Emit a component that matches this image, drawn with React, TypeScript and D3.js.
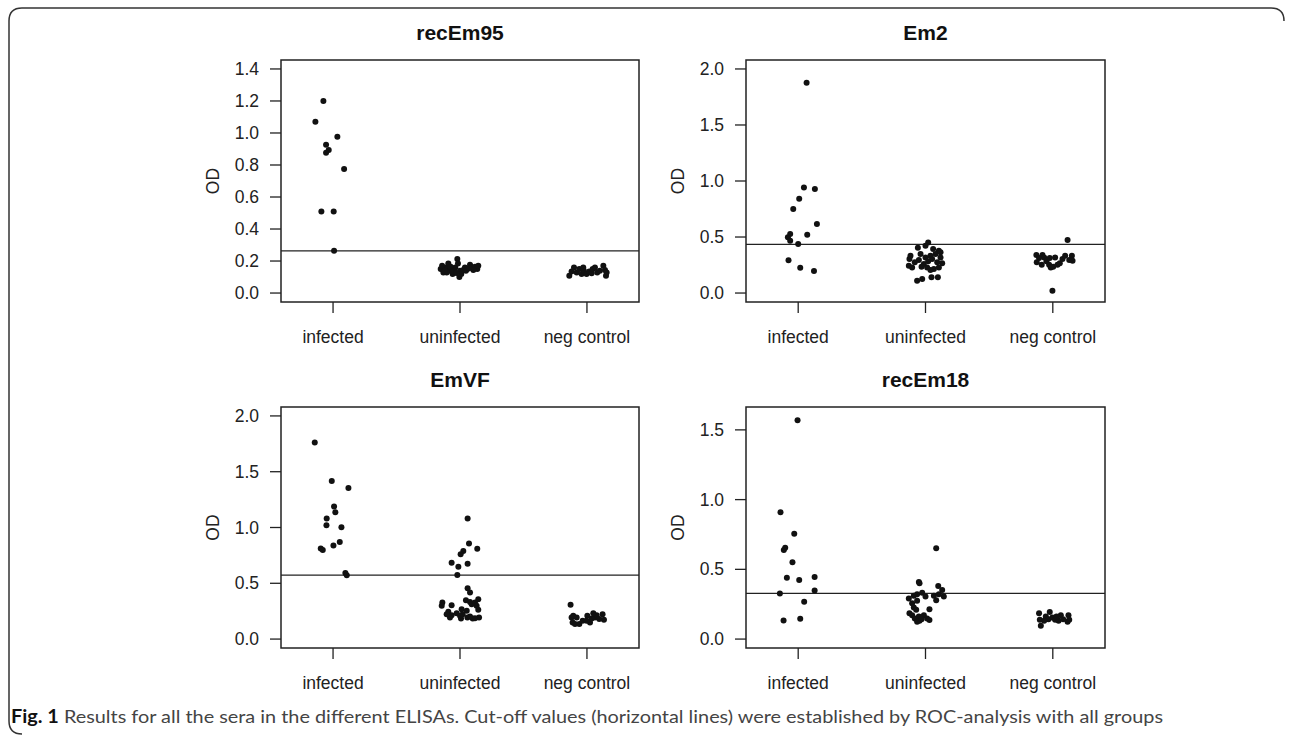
import React, { useRef, useEffect } from "react";
import { select, scaleLinear, range } from "d3";

const groups = ["infected", "uninfected", "neg control"];
const titles = ["recEm95", "Em2", "EmVF", "recEm18"];
// upper y limit used for each panel, last tick and tick step
const yLimits = [1.4, 2.0, 2.0, 1.6];
const tickMax = [1.4, 2.0, 2.0, 1.5];
const tickStep = [0.2, 0.5, 0.5, 0.5];
const cutoffs = [0.264, 0.435, 0.574, 0.328];

// each point: [jitter (category units), OD]
const recEm95Infected = [[-0.076, 1.2], [-0.139, 1.07], [0.034, 0.977], [-0.055, 0.927], [-0.034, 0.894], [-0.055, 0.877], [0.087, 0.775], [-0.092, 0.51], [0.005, 0.51], [0.008, 0.264]];
const recEm95Uninfected = [[-0.152, 0.15], [-0.131, 0.129], [-0.11, 0.16], [-0.092, 0.185], [-0.079, 0.14], [-0.058, 0.119], [-0.037, 0.16], [-0.021, 0.212], [-0.016, 0.185], [0, 0.14], [-0.005, 0.1], [0.026, 0.144], [0.039, 0.16], [0.058, 0.15], [0.079, 0.177], [0.092, 0.16], [0.118, 0.165], [0.136, 0.15], [0.144, 0.171], [-0.141, 0.171], [-0.105, 0.129], [-0.074, 0.165], [-0.047, 0.14], [0.01, 0.119], [0.047, 0.14], [0.105, 0.144], [-0.12, 0.14], [-0.06, 0.135], [0.07, 0.155], [-0.03, 0.125]];
const recEm95Neg = [[-0.139, 0.108], [-0.121, 0.135], [-0.102, 0.16], [-0.081, 0.129], [-0.06, 0.15], [-0.042, 0.119], [-0.024, 0.14], [-0.029, 0.16], [-0.003, 0.119], [0.018, 0.135], [0.037, 0.123], [0.045, 0.15], [0.063, 0.16], [0.081, 0.129], [0.102, 0.14], [0.129, 0.171], [0.142, 0.144], [0.15, 0.108], [0.155, 0.129]];

const em2Infected = [[0.066, 1.878], [0.045, 0.943], [0.131, 0.929], [0.008, 0.842], [-0.039, 0.75], [0.147, 0.616], [-0.063, 0.527], [0.071, 0.521], [-0.081, 0.497], [-0.063, 0.467], [0, 0.437], [-0.076, 0.292], [0.016, 0.226], [0.124, 0.196]];
const em2Uninfected = [[0.021, 0.45], [-0.06, 0.405], [0, 0.423], [0.06, 0.393], [0.105, 0.378], [-0.118, 0.333], [-0.039, 0.348], [0, 0.318], [0.039, 0.333], [0.079, 0.348], [0.118, 0.363], [-0.131, 0.244], [-0.084, 0.274], [-0.052, 0.295], [-0.013, 0.259], [0.021, 0.283], [0.052, 0.304], [0.092, 0.274], [0.131, 0.265], [-0.105, 0.229], [-0.031, 0.235], [0.013, 0.229], [0.066, 0.214], [0.105, 0.229], [0.039, 0.205], [-0.066, 0.11], [-0.026, 0.125], [0.047, 0.14], [0.097, 0.14], [-0.126, 0.304], [0.118, 0.318]];
const em2Neg = [[-0.129, 0.339], [-0.108, 0.312], [-0.081, 0.339], [-0.126, 0.274], [-0.087, 0.253], [-0.068, 0.318], [-0.05, 0.283], [-0.029, 0.253], [-0.016, 0.229], [0.003, 0.235], [0.018, 0.318], [0.037, 0.253], [0.055, 0.265], [0.076, 0.304], [0.097, 0.333], [0.116, 0.473], [0.129, 0.295], [0.15, 0.333], [0.155, 0.289], [-0.003, 0.021], [-0.024, 0.312]];

const emvfInfected = [[-0.144, 1.762], [-0.01, 1.417], [0.121, 1.354], [0.008, 1.188], [0.018, 1.137], [-0.05, 1.08], [-0.052, 1.021], [0.066, 1.003], [0.053, 0.869], [0.003, 0.839], [-0.097, 0.812], [-0.081, 0.798], [0.097, 0.592], [0.108, 0.571]];
const emvfUninfected = [[0.06, 1.08], [0.071, 0.857], [0.136, 0.81], [0.026, 0.79], [0.005, 0.76], [-0.066, 0.685], [0.06, 0.676], [-0.013, 0.649], [-0.021, 0.574], [0.06, 0.455], [0.079, 0.417], [-0.139, 0.327], [-0.144, 0.298], [-0.066, 0.304], [0.047, 0.348], [0.079, 0.333], [0.118, 0.327], [0.144, 0.357], [0.131, 0.298], [0.092, 0.312], [-0.092, 0.244], [-0.066, 0.214], [-0.026, 0.232], [0.013, 0.268], [0.021, 0.223], [0.053, 0.253], [0.144, 0.262], [-0.079, 0.193], [0.008, 0.185], [0.058, 0.193], [0.1, 0.185], [0.15, 0.193], [0.079, 0.202], [0.118, 0.187], [0, 0.208], [-0.105, 0.223]];
const emvfNeg = [[-0.129, 0.307], [-0.121, 0.193], [-0.113, 0.149], [-0.081, 0.193], [-0.06, 0.134], [-0.034, 0.164], [0.003, 0.208], [0.024, 0.149], [0.037, 0.185], [0.063, 0.193], [0.076, 0.214], [0.097, 0.179], [0.123, 0.223], [0.134, 0.173], [-0.094, 0.134], [-0.003, 0.164], [0.05, 0.232], [-0.108, 0.208]];

const recEm18Infected = [[-0.005, 1.569], [-0.139, 0.91], [-0.031, 0.755], [-0.102, 0.655], [-0.113, 0.638], [-0.045, 0.55], [-0.089, 0.44], [0.129, 0.445], [0.008, 0.424], [0.129, 0.348], [-0.144, 0.326], [0.047, 0.267], [0.016, 0.145], [-0.115, 0.133]];
const recEm18Uninfected = [[0.084, 0.652], [-0.052, 0.41], [-0.047, 0.4], [0.1, 0.381], [0.131, 0.352], [-0.131, 0.291], [-0.092, 0.31], [-0.066, 0.321], [-0.026, 0.333], [0, 0.305], [0.066, 0.31], [0.084, 0.279], [0.144, 0.305], [0.105, 0.321], [-0.105, 0.257], [-0.066, 0.274], [-0.092, 0.226], [-0.073, 0.21], [0.031, 0.214], [-0.126, 0.186], [-0.105, 0.171], [-0.052, 0.162], [-0.013, 0.171], [-0.084, 0.148], [-0.047, 0.131], [0.013, 0.148], [0.031, 0.136], [-0.066, 0.124], [-0.031, 0.143]];
const recEm18Neg = [[-0.108, 0.186], [-0.102, 0.138], [-0.094, 0.095], [-0.055, 0.162], [-0.024, 0.195], [-0.034, 0.143], [-0.003, 0.155], [0.018, 0.138], [0.045, 0.131], [0.063, 0.171], [0.081, 0.143], [0.116, 0.124], [0.123, 0.171], [0.129, 0.138], [-0.068, 0.131], [0.029, 0.162]];

const panelPoints = [
  [recEm95Infected, recEm95Uninfected, recEm95Neg],
  [em2Infected, em2Uninfected, em2Neg],
  [emvfInfected, emvfUninfected, emvfNeg],
  [recEm18Infected, recEm18Uninfected, recEm18Neg],
];

const W = 1292, H = 736;
const cols = [[281, 639], [746, 1105]];
const rows = [[60, 302], [407, 648]];
const font = "'Liberation Sans', Arial, Helvetica, sans-serif";
const ink = "#222";

function App() {
  const svgRef = useRef(null);

  useEffect(() => {
    const svg = select(svgRef.current);
    svg.selectAll("*").remove();

    // rounded frame (left + top)
    svg.append("path")
      .attr("d", "M 22,734 Q 9,734 9,721 L 9,21 Q 9,8 22,8 L 1271,8 Q 1284,8 1284,21")
      .attr("fill", "none")
      .attr("stroke", "#333")
      .attr("stroke-width", 1.5);

    titles.forEach((title, i) => {
      const [x0, x1] = cols[i % 2];
      const [y0, y1] = rows[Math.floor(i / 2)];
      const g = svg.append("g");

      const x = scaleLinear().domain([0.59, 3.41]).range([x0, x1]);
      const pad = yLimits[i] * 0.04;
      const y = scaleLinear().domain([-pad, yLimits[i] + pad]).range([y1, y0]);

      // y axis
      const ticks = range(0, tickMax[i] + tickStep[i] / 2, tickStep[i]);
      g.selectAll(".ytick")
        .data(ticks)
        .join("line")
        .attr("x1", x0 - 11).attr("x2", x0)
        .attr("y1", d => y(d)).attr("y2", d => y(d))
        .attr("stroke", ink).attr("stroke-width", 1.3);
      g.selectAll(".ylab")
        .data(ticks)
        .join("text")
        .attr("x", x0 - 22)
        .attr("y", d => y(d))
        .attr("dy", "0.35em")
        .attr("text-anchor", "end")
        .attr("font-family", font)
        .attr("font-size", 17.5)
        .attr("fill", ink)
        .text(d => d.toFixed(1));

      // x axis
      g.selectAll(".xtick")
        .data(groups)
        .join("line")
        .attr("x1", (d, j) => x(j + 1)).attr("x2", (d, j) => x(j + 1))
        .attr("y1", y1).attr("y2", y1 + 11)
        .attr("stroke", ink).attr("stroke-width", 1.3);
      g.selectAll(".xlab")
        .data(groups)
        .join("text")
        .attr("x", (d, j) => x(j + 1))
        .attr("y", y1 + 41)
        .attr("text-anchor", "middle")
        .attr("font-family", font)
        .attr("font-size", 17.5)
        .attr("fill", ink)
        .text(d => d);

      // axis title
      g.append("text")
        .attr("transform", `translate(${x0 - 62},${(y0 + y1) / 2}) rotate(-90)`)
        .attr("text-anchor", "middle")
        .attr("font-family", font)
        .attr("font-size", 17.5)
        .attr("fill", ink)
        .text("OD");

      g.append("text")
        .attr("x", (x0 + x1) / 2)
        .attr("y", y0 - 20)
        .attr("text-anchor", "middle")
        .attr("font-family", font)
        .attr("font-weight", "bold")
        .attr("font-size", 21)
        .attr("fill", "#111")
        .text(title);

      // cut-off
      g.append("line")
        .attr("x1", x0).attr("x2", x1)
        .attr("y1", y(cutoffs[i])).attr("y2", y(cutoffs[i]))
        .attr("stroke", ink).attr("stroke-width", 1.3);

      // points
      panelPoints[i].forEach((pts, j) => {
        g.selectAll(`.pt${j}`)
          .data(pts)
          .join("circle")
          .attr("class", `pt${j}`)
          .attr("cx", d => x(j + 1 + d[0]))
          .attr("cy", d => y(d[1]))
          .attr("r", 3)
          .attr("fill", "#111");
      });

      g.append("rect")
        .attr("x", x0).attr("y", y0)
        .attr("width", x1 - x0).attr("height", y1 - y0)
        .attr("fill", "none")
        .attr("stroke", ink).attr("stroke-width", 1.5);
    });

    const cap = svg.append("text")
      .attr("x", 11)
      .attr("y", 723)
      .attr("font-family", "Lato, 'Open Sans', sans-serif")
      .attr("font-size", 18)
      .attr("textLength", 1152)
      .attr("lengthAdjust", "spacingAndGlyphs");
    cap.append("tspan").attr("font-weight", "bold").attr("fill", "#111").text("Fig. 1");
    cap.append("tspan").attr("fill", "#444")
      .text(" Results for all the sera in the different ELISAs. Cut-off values (horizontal lines) were established by ROC-analysis with all groups");
  }, []);

  return (
    <div style={{ position: "absolute", left: 0, top: 0, background: "#fff" }}>
      <svg ref={svgRef} width={W} height={H} />
    </div>
  );
}

export default App;
